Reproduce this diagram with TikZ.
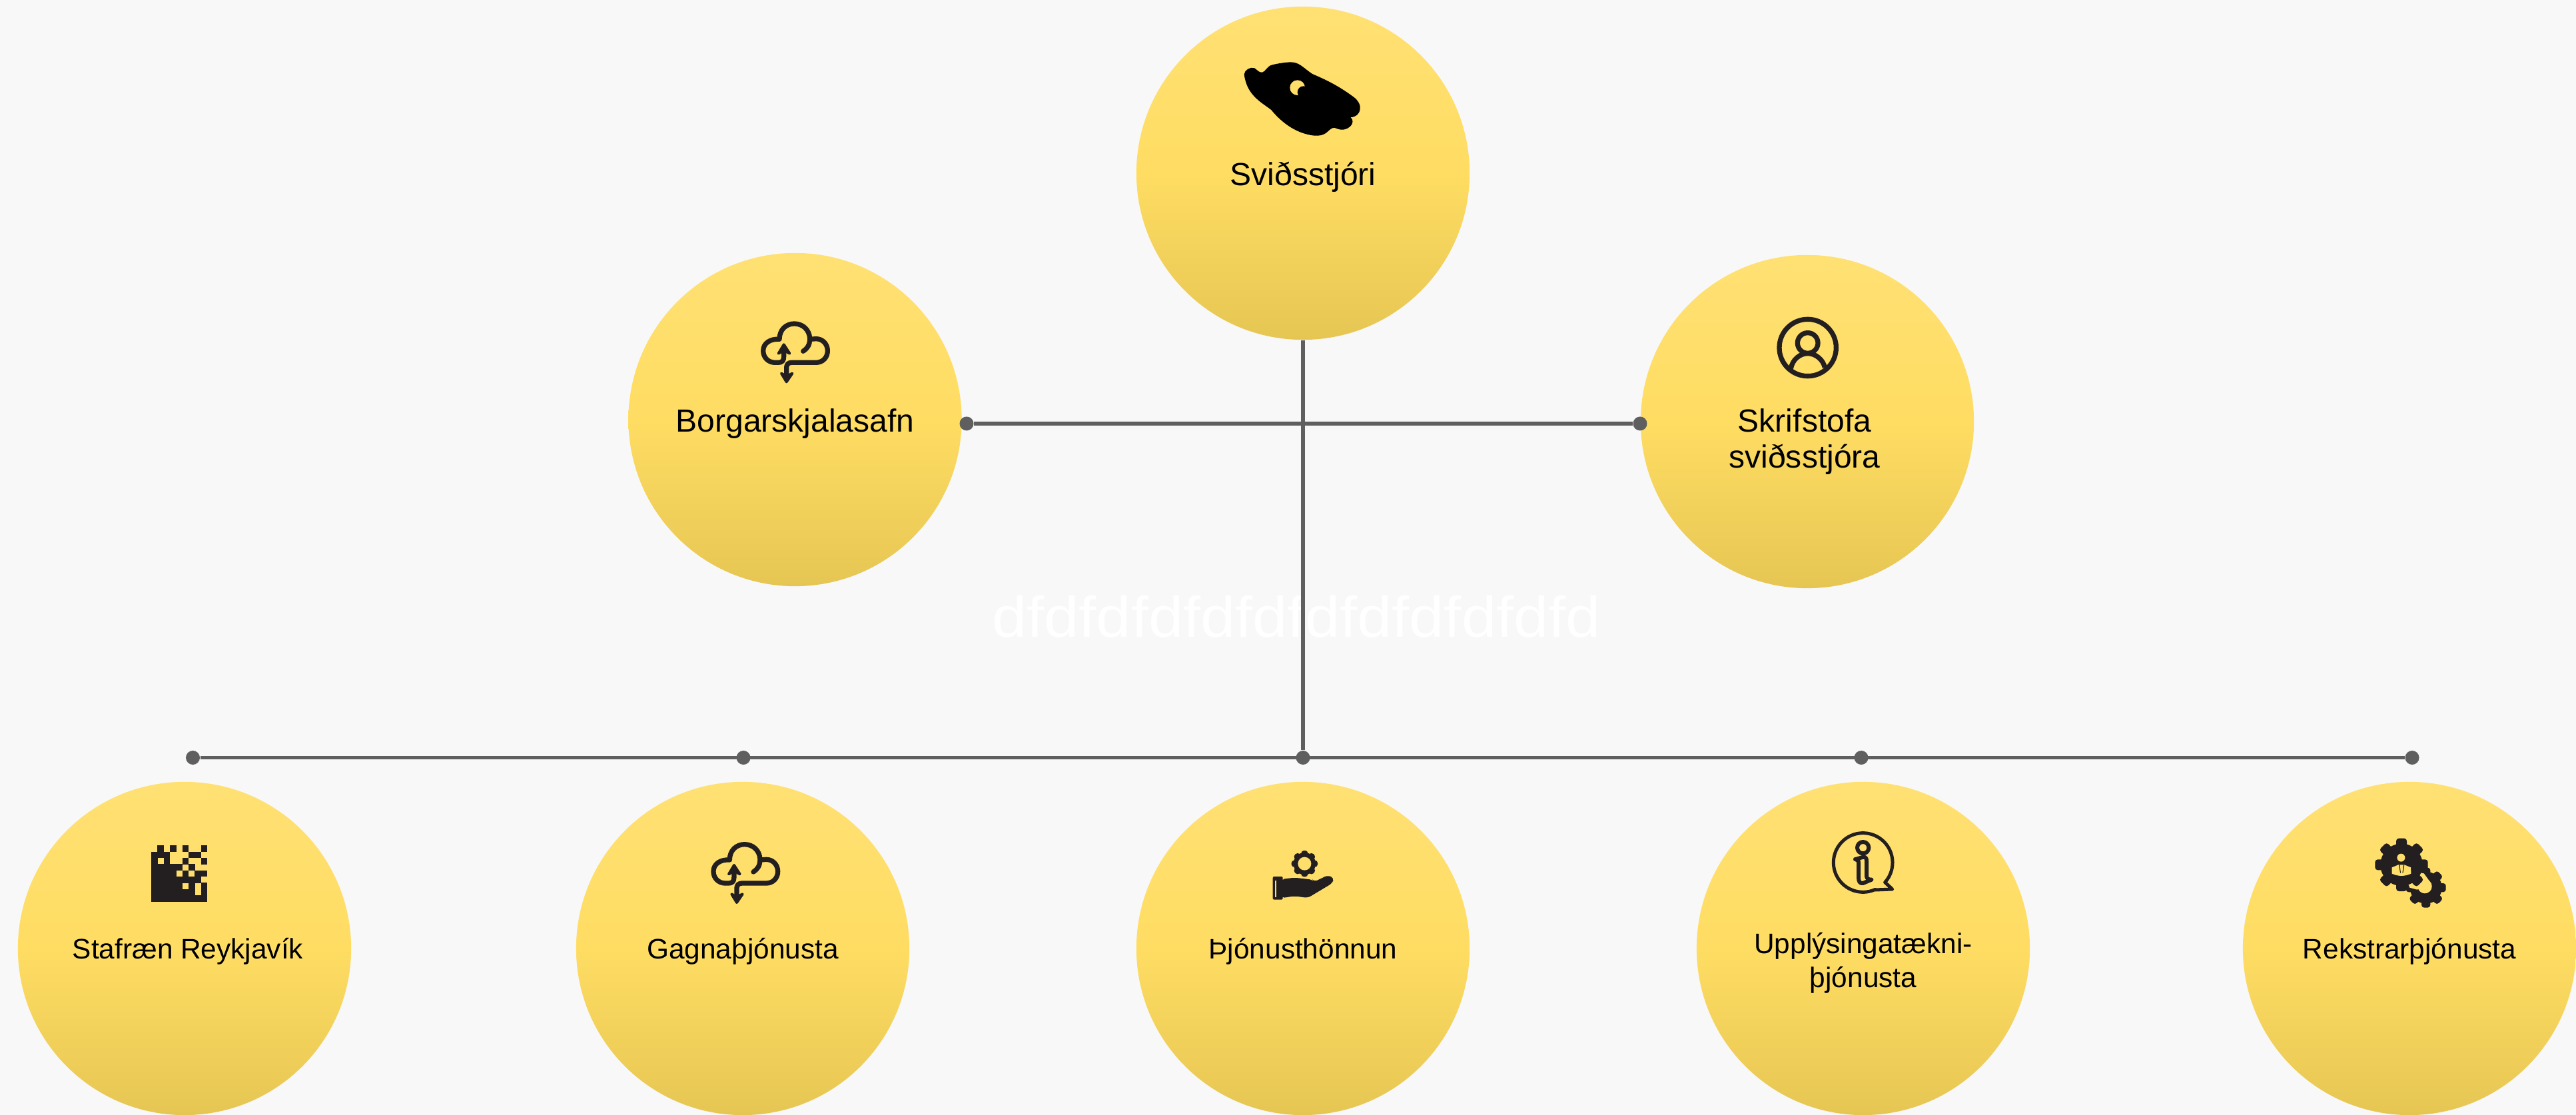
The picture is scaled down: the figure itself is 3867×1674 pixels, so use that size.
\documentclass[tikz,border=0pt]{standalone}
\usepackage{fontspec}
\setmainfont{Liberation Sans}
\definecolor{pagebg}{HTML}{F8F8F8}
\definecolor{linegray}{HTML}{5F5F5F}
\definecolor{inkdark}{HTML}{231F20}
\definecolor{sunny}{HTML}{FFDF6C}
\definecolor{sunlow}{HTML}{E6C653}
\definecolor{sunmid}{HTML}{FFDD63}
\definecolor{suntop}{HTML}{FFE073}
\pgfdeclareverticalshading{discfade}{100bp}{
  color(0bp)=(sunlow);
  color(25bp)=(sunlow);
  color(50bp)=(sunmid);
  color(75bp)=(suntop);
  color(100bp)=(suntop)
}
\tikzset{
  disc/.style={circle,minimum size=5cm,inner sep=0pt,shading=discfade},
  caption/.style={inner sep=0pt,align=center,text=black},
  bigtext/.style={caption,font=\fontsize{13.66}{15.4}\selectfont},
  smalltext/.style={caption,font=\fontsize{12.05}{14.4}\selectfont},
  pin/.style={circle,fill=linegray,minimum size=0.21cm,inner sep=0pt},
  wire/.style={draw=linegray,line width=0.055cm},
  iconline/.style={draw=inkdark,line width=0.073cm,line cap=round,line join=round},
  iconfill/.style={fill=inkdark},
  cloudicon/.pic={
    \draw[iconline] (317,232) .. controls (335,220) and (347,205) .. (347,175)
       .. controls (345,135) and (315,108) .. (277,108)
       .. controls (240,108) and (210,135) .. (210,178)
       .. controls (170,175) and (137,195) .. (137,230)
       .. controls (137,260) and (160,283) .. (190,283) -- (205,283)
       .. controls (222,283) and (230,275) .. (230,255) -- (230,215);
    \draw[iconline] (348,178) -- (375,176)
       .. controls (405,176) and (427,200) .. (427,230)
       .. controls (427,260) and (405,283) .. (375,283) -- (265,283)
       .. controls (250,283) and (242,292) .. (242,305) -- (242,345);
    \fill[iconfill,draw=inkdark,line width=0.04cm,line join=round] (206,242) -- (230,202) -- (256,242) -- (230,228) -- cycle;
    \fill[iconfill,draw=inkdark,line width=0.04cm,line join=round] (219,332) -- (242,370) -- (268,332) -- (242,345) -- cycle;
  }
}
\newcommand{\cogwheel}[5]{%
  \fill[iconfill] (#1,#2) circle (#3);
  \foreach \ang in {0,45,...,315}{
    \fill[iconfill,rounded corners=0.04cm,rotate around={\ang:(#1,#2)}]
      ({#1-#5},#2) -- ({#1-#5},{#2-#4}) -- ({#1+#5},{#2-#4}) -- ({#1+#5},#2) -- cycle;
  }%
}
\begin{document}
\begin{tikzpicture}[x=0.01cm,y=-0.01cm]
\useasboundingbox (0,0) rectangle (3867,1674);
\fill[pagebg] (0,0) rectangle (3867,1674);

% faint watermark text
\node[text=white,xscale=1.09,transform shape,font=\fontsize{24.5}{28}\selectfont,inner sep=0pt,anchor=base] (mark) at (1946,957) {dfdfdfdfdfdfdfdfdfdfdfd};

% discs
\node[disc] (chief) at (1956,260) {};
\node[disc] (archive) at (1193.5,630) {};
\node[disc] (office) at (2713,633) {};
\node[disc] (digital) at (277,1424) {};
\node[disc] (data) at (1115,1424) {};
\node[disc] (design) at (1956,1424) {};
\node[disc] (infotech) at (2797,1424) {};
\node[disc] (ops) at (3617,1424) {};

% captions
\node[bigtext] (chieftext) at ([yshift=-0.06cm]chief.center) {Sviðsstjóri};
\node[bigtext] (archivetext) at ([yshift=-0.06cm]archive.center) {Borgarskjalasafn};
\node[bigtext] (officetext) at ([xshift=-0.04cm,yshift=-0.3cm]office.center) {Skrifstofa\\sviðsstjóra};
\node[smalltext] (digitaltext) at ([xshift=0.05cm,yshift=-0.04cm]digital.center) {Stafræn Reykjavík};
\node[smalltext] (datatext) at ([yshift=-0.04cm]data.center) {Gagnaþjónusta};
\node[smalltext] (designtext) at ([yshift=-0.04cm]design.center) {Þjónusthönnun};
\node[smalltext] (infotechtext) at ([yshift=-0.22cm]infotech.center) {Upplýsingatækni-\\þjónusta};
\node[smalltext] (opstext) at ([yshift=-0.04cm]ops.center) {Rekstrarþjónusta};

% connectors
\node[pin] (pa) at (289.5,1137.5) {};
\node[pin] (pb) at (1116,1137.5) {};
\node[pin] (pc) at (1956,1137.5) {};
\node[pin] (pd) at (2794,1137.5) {};
\node[pin] (pe) at (3621,1137.5) {};
\node[pin] (pl) at (1451,636) {};
\node[pin] (pr) at (2462,636) {};
\draw[wire] (pa) -- (pe);
\draw[wire] (pl) -- (pr);
\draw[wire] (chief.south) -- (pc);

% animal head icon
\begin{scope}[shift={(1800,50)},scale=1/3]
  \fill[black] (203,185) .. controls (205,165) and (230,150) .. (250,157)
    .. controls (262,165) and (270,178) .. (285,176)
    .. controls (300,172) and (305,148) .. (330,142)
    .. controls (360,135) and (400,128) .. (425,131)
    .. controls (455,135) and (475,160) .. (510,183)
    .. controls (560,205) and (620,230) .. (700,290)
    .. controls (718,305) and (728,325) .. (725,340)
    .. controls (722,365) and (705,378) .. (682,378)
    .. controls (695,390) and (695,405) .. (680,420)
    .. controls (665,435) and (640,438) .. (622,430)
    .. controls (605,420) and (595,428) .. (580,442)
    .. controls (560,462) and (530,465) .. (500,458)
    .. controls (430,445) and (370,400) .. (325,345)
    .. controls (280,310) and (215,280) .. (203,185) -- cycle;
  \fill[sunny] (443,245) circle (34);
  \fill[black] (470,265) circle (27);
\end{scope}

% cloud icons
\pic[shift={(1100,450)},scale=1/3] {cloudicon};
\pic[shift={(1025.3,1231.7)},scale=1/3] {cloudicon};

% person icon
\begin{scope}[shift={(2620,440)},scale=1/3]
  \draw[iconline] (281,246) circle (128);
  \draw[iconline] (281,225) circle (46);
  \draw[iconline,line cap=butt] (205,340) .. controls (212,300) and (245,272) .. (281,272)
     .. controls (317,272) and (350,300) .. (358,335);
\end{scope}

% digital pattern icon
\begin{scope}[shift={(180,1240)},scale=1/3]
  \foreach \cx/\cy/\cw in {1/0/1,3/0/1,5/0/1,8/0/1,
      0/1/3,6/1/2,
      0/2/1,2/2/1,5/2/1,8/2/1,
      0/3/5,6/3/1,
      0/4/4,5/4/1,7/4/2,
      0/5/8,
      0/6/5,6/6/1,8/6/1,
      0/7/7,8/7/1,
      0/8/9}{
    \fill[iconfill] ({141+28*\cx},{88+28*\cy}) rectangle ({141+28*\cx+28*\cw+0.5},{88+28*\cy+28.5});
  }
\end{scope}

% hand with cog icon
\begin{scope}[shift={(1880,1250)},scale=1/3]
  \cogwheel{235}{140}{50}{59}{15}
  \fill[sunny] (235,140) circle (30);
  \fill[iconfill,rounded corners=0.02cm] (92,198) rectangle (137,302);
  \fill[sunny] (103,215) rectangle (108,290);
  \fill[iconfill,rounded corners=0.05cm] (130,210) -- (190,203) -- (270,212) -- (278,222) -- (340,192) -- (368,205) -- (360,228) -- (250,294) -- (190,286) -- (130,295) -- cycle;
\end{scope}

% info bubble icon
\begin{scope}[shift={(2720,1230)},scale=1/3]
  \draw[iconline,line width=0.05cm] plot[domain=66:402,samples=80] ({230+133*cos(\x)},{195+133*sin(\x)}) -- (362,315) -- (285,318);
  \draw[iconline,line width=0.06cm] (230,128) circle (26);
  \draw[iconline,line width=0.06cm] (195,180) .. controls (210,178) and (225,170) .. (235,170)
     .. controls (245,172) and (246,180) .. (246,190) -- (246,255)
     .. controls (246,268) and (255,272) .. (268,272) -- (230,288)
     .. controls (215,290) and (210,280) .. (210,262) -- (210,195)
     .. controls (210,185) and (203,182) .. (195,180) -- cycle;
\end{scope}

% gears with person icon
\begin{scope}[shift={(3540,1240)},scale=1/3]
  \cogwheel{305}{278}{72}{90}{20}
  \fill[sunny] (300,272) circle (32);
  \fill[sunny] (296,214) -- (322,250) -- (300,272) -- (265,287) -- (232,278) -- (200,200) -- cycle;
  \cogwheel{195}{175}{95}{119}{24}
  \fill[sunny] (193,143) circle (18);
  \fill[sunny] (152,187) -- (181,175) -- (208,175) -- (237,187) -- (238,215) .. controls (210,228) and (180,228) .. (152,215) -- cycle;
  \fill[iconfill] (183,175) -- (187,175) -- (192,212) -- (189,212) -- cycle;
  \fill[iconfill] (208,175) -- (204,175) -- (199,212) -- (202,212) -- cycle;
\end{scope}
\end{tikzpicture}
\end{document}
